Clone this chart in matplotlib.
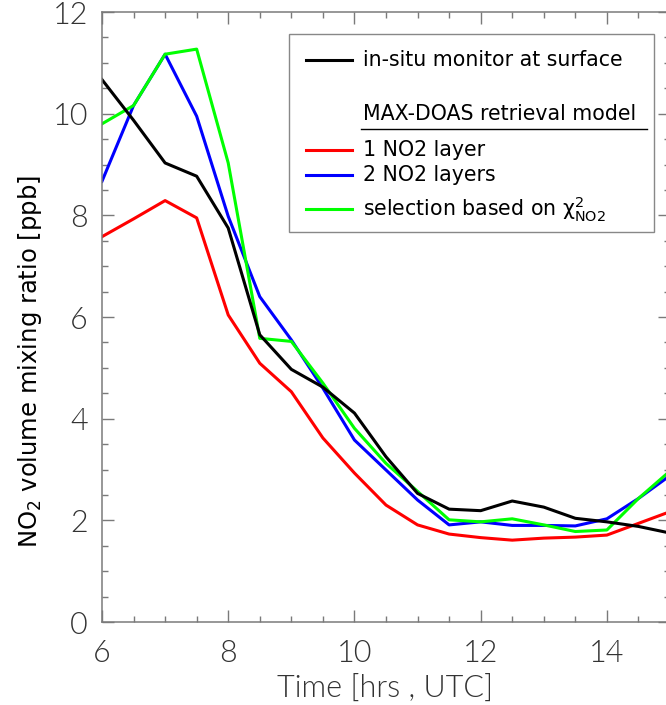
import matplotlib
matplotlib.use("Agg")
import matplotlib.pyplot as plt
from matplotlib.lines import Line2D
from matplotlib.patches import Rectangle
from matplotlib.ticker import MultipleLocator
from matplotlib import font_manager

# ────────────────────────────────────────────────
#  data (half-hour steps, UTC)
# ────────────────────────────────────────────────
time_hrs = [6.0, 6.5, 7.0, 7.5, 8.0, 8.5, 9.0, 9.5, 10.0, 10.5,
            11.0, 11.5, 12.0, 12.5, 13.0, 13.5, 14.0, 14.5, 15.0]

insitu = [10.67, 9.87, 9.03, 8.77, 7.75, 5.65, 4.97, 4.62, 4.11, 3.25,
          2.53, 2.22, 2.19, 2.38, 2.26, 2.04, 1.97, 1.88, 1.75]
one_layer = [7.58, 7.93, 8.29, 7.95, 6.04, 5.09, 4.53, 3.62, 2.93, 2.30,
             1.91, 1.73, 1.66, 1.61, 1.65, 1.67, 1.71, 1.94, 2.17]
two_layers = [8.67, 10.16, 11.17, 9.95, 7.98, 6.40, 5.55, 4.60, 3.58, 2.99,
              2.40, 1.91, 1.97, 1.90, 1.90, 1.89, 2.03, 2.43, 2.88]
chi2_sel = [9.80, 10.16, 11.17, 11.27, 9.03, 5.58, 5.52, 4.70, 3.81, 3.12,
            2.57, 2.01, 1.97, 2.03, 1.91, 1.78, 1.81, 2.43, 2.97]

labels = ["in-situ monitor at surface", "1 NO2 layer", "2 NO2 layers",
          r"selection based on $\chi^{2}_{\mathrm{NO2}}$"]
header = "MAX-DOAS retrieval model"
colors = ["black", "#ff0000", "#0000ff", "#00ff00"]

# ────────────────────────────────────────────────
W, H = 666, 705
plt.rcParams["mathtext.default"] = "regular"
fonts = font_manager.fontManager.ttflist
names = {f.name for f in fonts}
narrow = "Liberation Sans Narrow" if "Liberation Sans Narrow" in names else "DejaVu Sans"

# light font for the ticks / x label (IDL Hershey look)
thin, thin_w, thin_col = "DejaVu Sans", "normal", "#555555"
for fam in ["Lato", "Roboto", "Open Sans", "Inter"]:
    if any(f.name == fam and f.weight == 300 for f in fonts):
        thin, thin_w, thin_col = fam, 300, "#333333"
        break

def fx(px):
    return px / W

def fy(py):
    return 1 - py / H

fig = plt.figure(figsize=(W / 100, H / 100), dpi=100)
ax = fig.add_axes([fx(102), fy(622), (670 - 102) / W, (622 - 12) / H])

ax.plot(time_hrs, one_layer, color=colors[1], lw=2.2)
ax.plot(time_hrs, two_layers, color=colors[2], lw=2.2)
ax.plot(time_hrs, chi2_sel, color=colors[3], lw=2.2)
ax.plot(time_hrs, insitu, color=colors[0], lw=2.2)

ax.set_xlim(6, 15)
ax.set_ylim(0, 12)
ax.xaxis.set_major_locator(MultipleLocator(2))
ax.xaxis.set_minor_locator(MultipleLocator(0.5))
ax.yaxis.set_major_locator(MultipleLocator(2))
ax.yaxis.set_minor_locator(MultipleLocator(0.5))

axcol = "#7a7a7a"
for s in ax.spines.values():
    s.set_color(axcol)
    s.set_linewidth(1.1)
ax.tick_params(which="both", direction="in", top=True, right=True, color=axcol, width=1.0)
ax.tick_params(which="major", length=8.5)
ax.tick_params(which="minor", length=4.3)
ax.tick_params(axis="x", pad=12)
ax.tick_params(axis="y", pad=10)
for lab in ax.get_xticklabels() + ax.get_yticklabels():
    lab.set_fontsize(22)
    lab.set_family(thin)
    lab.set_fontweight(thin_w)
    lab.set_color(thin_col)

fig.text(fx(385), fy(688), "Time [hrs , UTC]", ha="center", va="center",
         fontsize=22, family=thin, fontweight=thin_w, color=thin_col)
fig.text(fx(30), fy(362), "NO$_2$ volume mixing ratio [ppb]", rotation=90,
         ha="center", va="center", fontsize=17.5, family=narrow, color="black")

# ── legend box drawn by hand (header + underline) ──
fig.patches.append(Rectangle((fx(289), fy(232)), (654 - 289) / W, (232 - 34) / H,
                             transform=fig.transFigure, fill=True, facecolor="white",
                             edgecolor="#888888", lw=1.0, zorder=5))
rows = [60, 150, 175, 209]
for lab, col, yy in zip(labels, colors, rows):
    fig.add_artist(Line2D([fx(306), fx(352)], [fy(yy), fy(yy)], color=col, lw=2.2,
                          transform=fig.transFigure, zorder=6))
    fig.text(fx(363), fy(yy), lab, ha="left", va="center", fontsize=14.8, zorder=6)
fig.text(fx(363), fy(114), header, ha="left", va="center", fontsize=14.8, zorder=6)
fig.add_artist(Line2D([fx(361), fx(647)], [fy(129), fy(129)], color="black", lw=1.0,
                      transform=fig.transFigure, zorder=6))

fig.savefig("out.png", dpi=100)
